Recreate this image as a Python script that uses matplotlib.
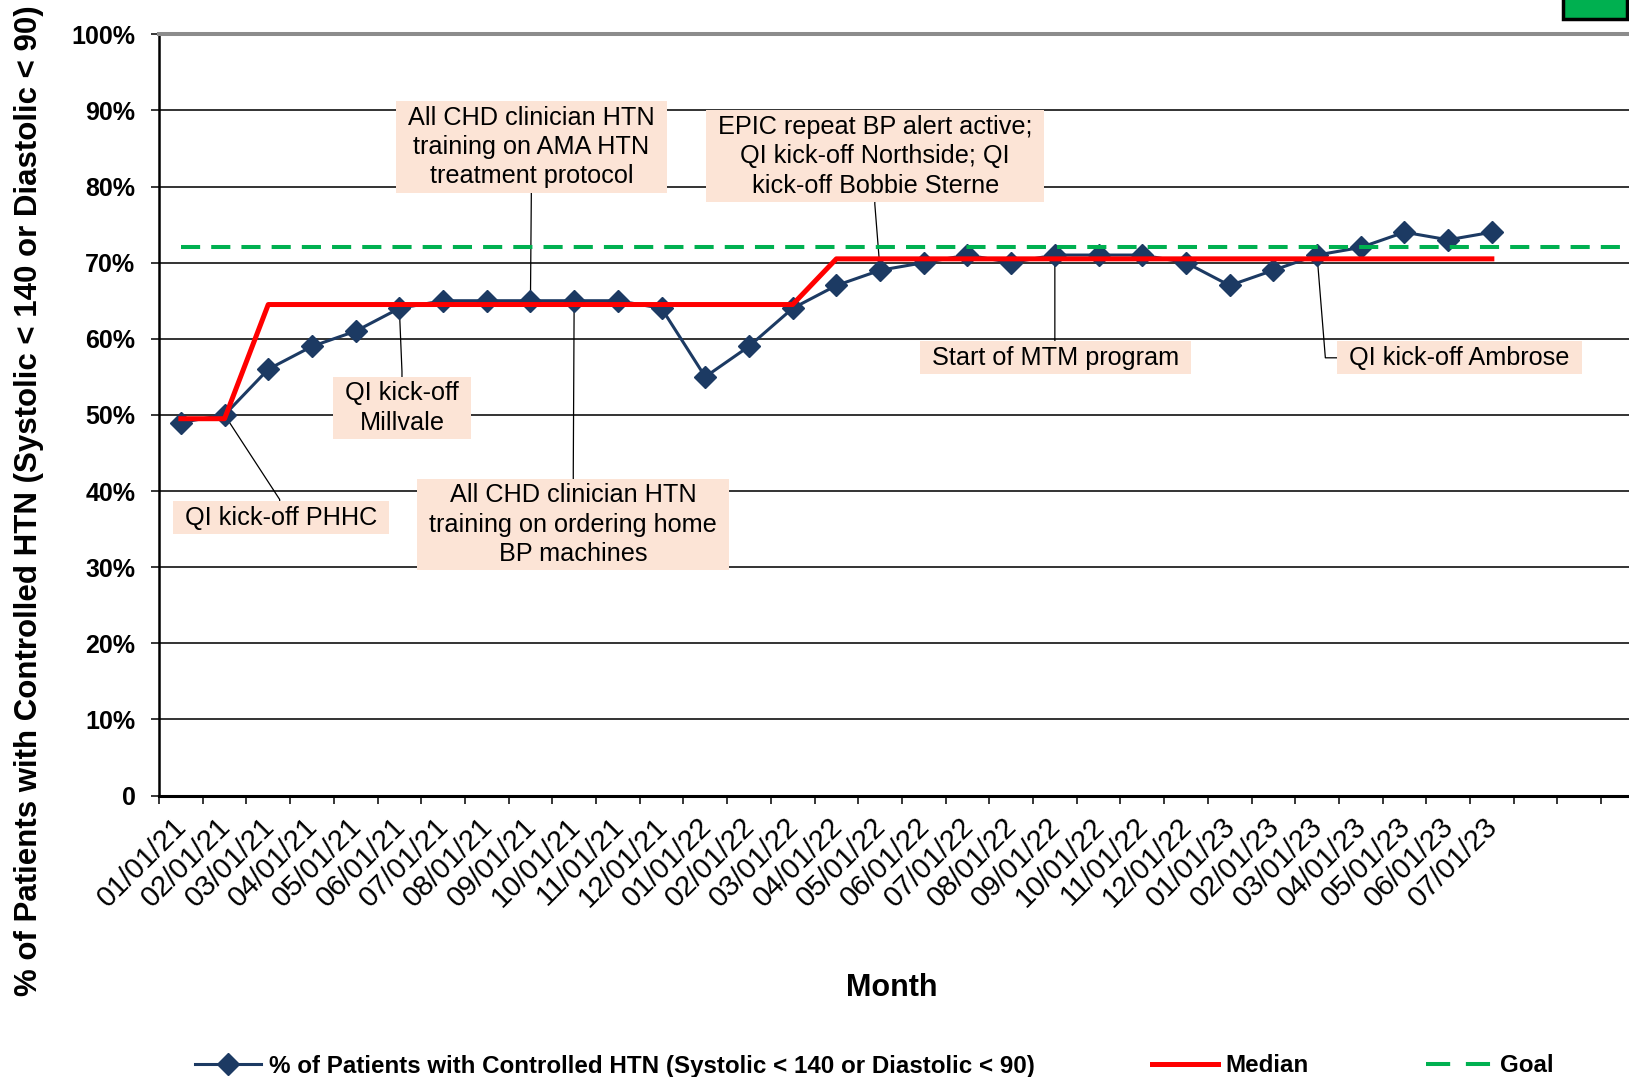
import matplotlib
matplotlib.use("Agg")
import matplotlib.pyplot as plt
from matplotlib.patches import Rectangle
from matplotlib.lines import Line2D
from matplotlib.transforms import ScaledTranslation
import numpy as np

plt.rcParams["font.family"] = ["Liberation Sans", "DejaVu Sans"]

# ---- data -------------------------------------------------------------
months = [
    "01/01/21", "02/01/21", "03/01/21", "04/01/21", "05/01/21", "06/01/21",
    "07/01/21", "08/01/21", "09/01/21", "10/01/21", "11/01/21", "12/01/21",
    "01/01/22", "02/01/22", "03/01/22", "04/01/22", "05/01/22", "06/01/22",
    "07/01/22", "08/01/22", "09/01/22", "10/01/22", "11/01/22", "12/01/22",
    "01/01/23", "02/01/23", "03/01/23", "04/01/23", "05/01/23", "06/01/23",
    "07/01/23",
]
pct_controlled = [
    49, 50, 56, 59, 61, 64, 65, 65, 65, 65, 65, 64,
    55, 59, 64, 67, 69, 70, 71, 70, 71, 71, 71, 70,
    67, 69, 71, 72, 74, 73, 74,
]
median = [
    49.5, 49.5, 64.5, 64.5, 64.5, 64.5, 64.5, 64.5, 64.5, 64.5, 64.5, 64.5,
    64.5, 64.5, 64.5, 70.5, 70.5, 70.5, 70.5, 70.5, 70.5, 70.5, 70.5, 70.5,
    70.5, 70.5, 70.5, 70.5, 70.5, 70.5, 70.5,
]
goal = 72
y_ticks = [0, 10, 20, 30, 40, 50, 60, 70, 80, 90, 100]
y_tick_labels = ["0", "10%", "20%", "30%", "40%", "50%", "60%", "70%",
                 "80%", "90%", "100%"]

series_label = "% of Patients with Controlled HTN (Systolic < 140 or Diastolic < 90)"

# event callouts: text, month the leader points at, box centre (x slot, y %),
# point where the leader meets the box
events = [
    ("All CHD clinician HTN\ntraining on AMA HTN\ntreatment protocol",
     "09/01/21", (8.02, 85.2), (8.02, 79.0)),
    ("EPIC repeat BP alert active;\nQI kick-off Northside; QI\nkick-off Bobbie Sterne",
     "05/01/22", (15.89, 84.0), (15.88, 77.7)),
    ("Start of MTM program", "09/01/22", (20.01, 57.5), (20.0, 60.0)),
    ("QI kick-off Ambrose", "03/01/23", (29.26, 57.5), (26.19, 57.5)),
    ("QI kick-off\nMillvale", "06/01/21", (5.06, 50.9), (5.06, 55.7)),
    ("QI kick-off PHHC", "02/01/21", (2.29, 36.5), (2.26, 38.9)),
    ("All CHD clinician HTN\ntraining on ordering home\nBP machines",
     "10/01/21", (8.98, 35.6), (8.98, 42.8)),
]

# ---- styling ----------------------------------------------------------
navy = "#1C3A63"
red = "#FF0000"
green = "#00B050"
peach = "#FCE4D6"

W, H = 1629, 1077
fig = plt.figure(figsize=(W / 100, H / 100), dpi=100)

slot_px = 43.7
n_slots = 36
ax_left, ax_top, ax_bottom = 159, 34.3, 795.5
ax = fig.add_axes([ax_left / W, 1 - ax_bottom / H,
                   n_slots * slot_px / W, (ax_bottom - ax_top) / H])

x = np.arange(len(months))
ax.set_xlim(-0.5, n_slots - 0.5)
ax.set_ylim(0, 100)

data_line, = ax.plot(x, pct_controlled, color=navy, lw=2.2, marker="D",
                     ms=11, mfc=navy, mec=navy, zorder=3, label=series_label)
median_line, = ax.plot(x, median, color=red, lw=3.6, zorder=3.5,
                       label="Median")
ax.plot([x[0], n_slots], [goal, goal], color=green, lw=2.9,
        dashes=(4.75, 2.75), zorder=3.6)

# axes frame
ax.spines["right"].set_visible(False)
ax.spines["left"].set_color("black")
ax.spines["left"].set_linewidth(1.8)
ax.spines["bottom"].set_color("black")
ax.spines["bottom"].set_linewidth(2.2)
ax.spines["top"].set_color("#8C8C8C")
ax.spines["top"].set_linewidth(2.9)

ax.set_axisbelow(True)
ax.grid(axis="y", color="#111111", lw=1.2)
ax.grid(axis="x", visible=False)

ax.set_yticks(y_ticks, labels=y_tick_labels)
ax.tick_params(axis="y", length=6, width=1.1, pad=11, labelsize=18)
for lbl in ax.get_yticklabels():
    lbl.set_fontweight("bold")

# boundary ticks between months, labels centred on each month
ax.set_xticks(np.arange(-0.5, n_slots, 1))
ax.tick_params(axis="x", which="major", length=6, width=1.1,
               direction="out", labelbottom=False)
ax.set_xticks(x, labels=months, minor=True)
ax.tick_params(axis="x", which="minor", length=0, pad=18, labelsize=21)
label_shift = ScaledTranslation(-0.083, 0.083, fig.dpi_scale_trans)
for lbl in ax.get_xticklabels(minor=True):
    lbl.set_rotation(45)
    lbl.set_ha("right")
    lbl.set_va("top")
    lbl.set_rotation_mode("anchor")
    lbl.set_transform(lbl.get_transform() + label_shift)

# event callouts
texts = []
for text, month, (bx, by), (ex, ey) in events:
    i = months.index(month)
    px, py = x[i], pct_controlled[i]
    ax.plot([px, ex, bx], [py, ey, by], color="black", lw=0.9, zorder=2.8)
    t = ax.text(bx, by, text, ha="center", va="center", fontsize=18.2,
                zorder=6, linespacing=1.285)
    texts.append(t)

fig.canvas.draw()
renderer = fig.canvas.get_renderer()
inv = ax.transData.inverted()
pad_x, pad_y = 12, 4.5
for t in texts:
    bb = t.get_window_extent(renderer)
    (x0, y0) = inv.transform((bb.x0 - pad_x, bb.y0 - pad_y))
    (x1, y1) = inv.transform((bb.x1 + pad_x, bb.y1 + pad_y))
    ax.add_patch(Rectangle((x0, y0), x1 - x0, y1 - y0, fc=peach, ec="none",
                           zorder=5))

# axis titles
fig.text(29 / W, 1 - 501 / H, series_label, rotation=90, fontsize=22.5,
         fontweight="bold", ha="center", va="center")
fig.text(892 / W, 1 - 988 / H, "Month", fontsize=22, fontweight="bold",
         ha="center", va="center")

# legend along the bottom
goal_handle = Line2D([], [], color=green, lw=2.9, dashes=(6, 3.9))
fig.legend([data_line, median_line, goal_handle],
           [series_label, "Median", "Goal"], loc="center left",
           bbox_to_anchor=(195 / W, 1 - 1066 / H), ncol=3, frameon=False,
           prop={"weight": "bold", "size": 17.4}, handlelength=2.75,
           handletextpad=0.3, columnspacing=4.85, borderpad=0,
           borderaxespad=0)

# green indicator box at the top right corner
fig.add_artist(Rectangle((1563 / W, 1 - 19 / H), 64 / W, 40 / H,
                         transform=fig.transFigure, fc=green, ec="black",
                         lw=2.5, clip_on=False))

fig.savefig("out.png", dpi=100)
